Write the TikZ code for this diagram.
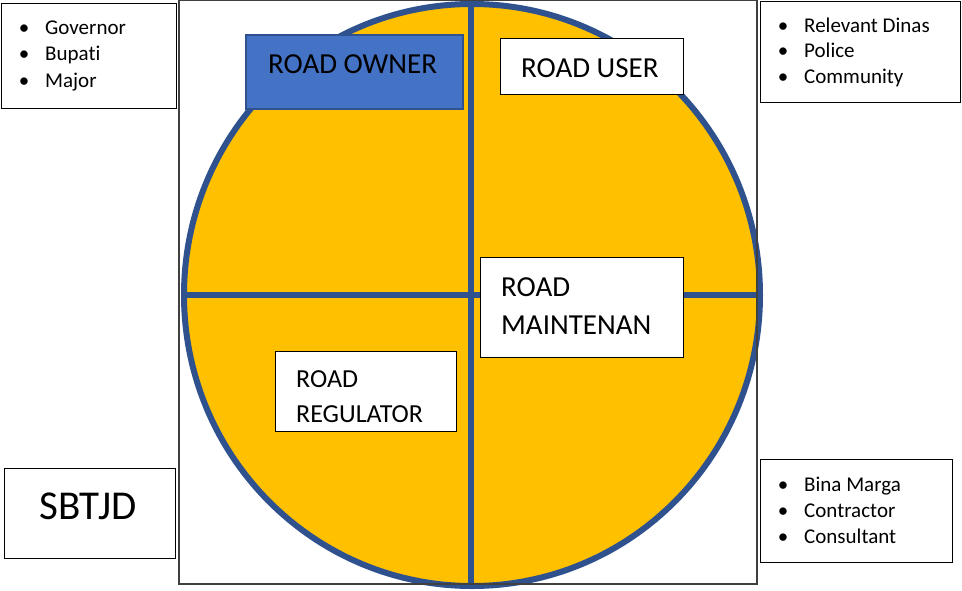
\documentclass[tikz,border=0pt]{standalone}
\usepackage{fontspec}
\setmainfont{Carlito}[RawFeature={-liga}]
\definecolor{gold}{HTML}{FFC000}
\definecolor{ringblue}{HTML}{2F528F}
\definecolor{ownerblue}{HTML}{4472C4}
\begin{document}
\begin{tikzpicture}[x=1pt,y=-1pt,
  box/.style={draw=black, line width=1.3pt, fill=white, anchor=north west, inner sep=0pt},
  big/.style={anchor=base west, inner sep=0pt, font=\fontsize{29}{34}\selectfont},
  mid/.style={anchor=base west, inner sep=0pt, font=\fontsize{26}{31}\selectfont},
  small/.style={anchor=base west, inner sep=0pt, font=\fontsize{21}{25}\selectfont},
  dot/.style={anchor=base, inner sep=0pt, font=\fontsize{21}{25}\selectfont}]
\useasboundingbox (0,0) rectangle (962,590);
% frame and circle
\fill[white] (179,0) rectangle (757,584);
\draw[ringblue, line width=6pt, fill=gold] (472,295) ellipse [x radius=288, y radius=291];
\coordinate (vt) at (471,4);
\coordinate (vb) at (471,586);
\coordinate (hl) at (184,295);
\coordinate (hr) at (760,295);
\draw[ringblue, line width=6pt] (vt) -- (vb);
\draw[ringblue, line width=6pt] (hl) -- (hr);
\draw[black!75, line width=1.3pt] (179,0.7) rectangle (757,584);
% boxes
\node (gov) [box, minimum width=175pt, minimum height=105pt] at (1,3) {};
\node (owner) [box, draw=ringblue, line width=2pt, fill=ownerblue, minimum width=217pt, minimum height=74pt] at (245,34) {};
\node (user) [box, minimum width=183pt, minimum height=56pt] at (500,38) {};
\node (dinas) [box, minimum width=200pt, minimum height=101pt] at (760,1) {};
\node (maint) [box, minimum width=203pt, minimum height=100pt] at (480,257) {};
\node (reg) [box, minimum width=181pt, minimum height=80pt] at (275,351) {};
\node (sbtjd) [box, minimum width=171pt, minimum height=90pt] at (4,468) {};
\node (bina) [box, minimum width=192pt, minimum height=103pt] at (760,459) {};
% texts
\node (t1) [big] at (268,73) {ROAD OWNER};
\node (t2) [big] at (521,77) {ROAD USER};
\node (t3) [big] at (501,296) {ROAD};
\node (t4) [big] at (501,334) {MAINTENAN};
\node (t5) [mid] at (296,387) {ROAD};
\node (t6) [mid] at (296,422) {REGULATOR};
\node (t7) [anchor=base west, inner sep=0pt, font=\fontsize{41}{48}\selectfont] at (39,519) {SBTJD};
% bullet lists
\node (b1) [dot] at (24,34) {•};
\node (b2) [dot] at (24,60) {•};
\node (b3) [dot] at (24,87) {•};
\node (l1) [small] at (45,34) {Governor};
\node (l2) [small] at (45,60) {Bupati};
\node (l3) [small] at (45,87) {Major};
\node (b4) [dot] at (783,32) {•};
\node (b5) [dot] at (783,57) {•};
\node (b6) [dot] at (783,83) {•};
\node (l4) [small] at (804,32) {Relevant Dinas};
\node (l5) [small] at (804,57) {Police};
\node (l6) [small] at (804,83) {Community};
\node (b7) [dot] at (783,491) {•};
\node (b8) [dot] at (783,517) {•};
\node (b9) [dot] at (783,543) {•};
\node (l7) [small] at (804,491) {Bina Marga};
\node (l8) [small] at (804,517) {Contractor};
\node (l9) [small] at (804,543) {Consultant};
\end{tikzpicture}
\end{document}
